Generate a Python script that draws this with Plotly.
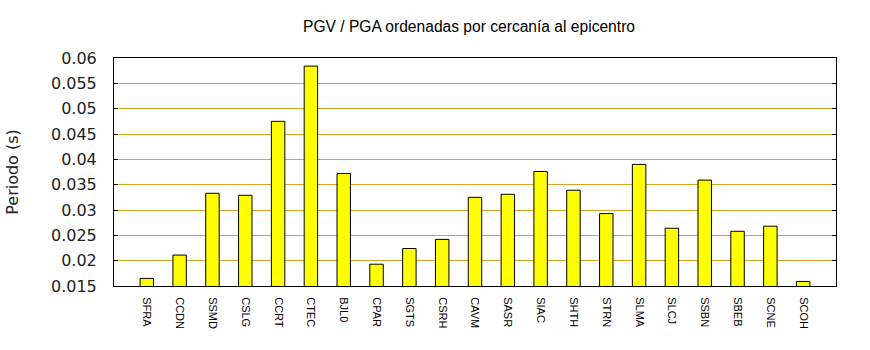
import plotly.graph_objects as go

stations = ["SFRA", "CCDN", "SSMD", "CSLG", "CCRT", "CTEC", "BJL0", "CPAR", "SGTS", "CSRH",
            "CAVM", "SASR", "SIAC", "SHTH", "STRN", "SLMA", "SLCJ", "SSBN", "SBEB", "SCNE", "SCOH"]
periodo = [0.0165, 0.0211, 0.0333, 0.0329, 0.0475, 0.0584, 0.0372, 0.0193, 0.0224, 0.0242,
           0.0325, 0.0331, 0.0376, 0.0339, 0.0293, 0.0390, 0.0264, 0.0359, 0.0258, 0.0268, 0.0159]
y_tickvals = [0.015, 0.02, 0.025, 0.03, 0.035, 0.04, 0.045, 0.05, 0.055, 0.06]
y_ticktext = ["0.015", "0.02", "0.025", "0.03", "0.035", "0.04", "0.045", "0.05", "0.055", "0.06"]

fig = go.Figure()
fig.add_trace(go.Bar(
    x=stations, y=periodo, width=0.41,
    marker=dict(color="#FFFF00", line=dict(color="black", width=1)),
))

fig.update_layout(
    width=870, height=350,
    margin=dict(l=112, r=34, t=58, b=64),
    plot_bgcolor="white", paper_bgcolor="white",
    showlegend=False,
    title=dict(text="PGV / PGA ordenadas por cercanía al epicentro",
               font=dict(family="Liberation Sans", size=15.6, color="black"),
               x=469/870, xanchor="center", xref="container",
               y=1-27/350, yanchor="middle", yref="container"),
    font=dict(family="DejaVu Sans", color="black"),
)

fig.update_xaxes(
    type="category", range=[-1, 21],
    showline=True, linecolor="black", linewidth=1, mirror=True,
    showgrid=False, ticks="", tickangle=90,
    tickfont=dict(family="Liberation Sans", size=11, color="black"),
    ticklabelstandoff=8,
)
fig.update_yaxes(
    range=[0.015, 0.06],
    tickvals=y_tickvals, ticktext=y_ticktext,
    showline=True, linecolor="black", linewidth=1, mirror="ticks",
    ticks="inside", ticklen=4, tickcolor="black",
    showgrid=True, gridcolor="#DAA520", gridwidth=1,
    tickfont=dict(family="DejaVu Sans", size=16, color="#222222"),
    ticklabelstandoff=13,
    title=dict(text="Periodo (s)", font=dict(family="DejaVu Sans", size=16, color="#222222"), standoff=28),
    zeroline=False,
)

fig.write_html("out.html")
